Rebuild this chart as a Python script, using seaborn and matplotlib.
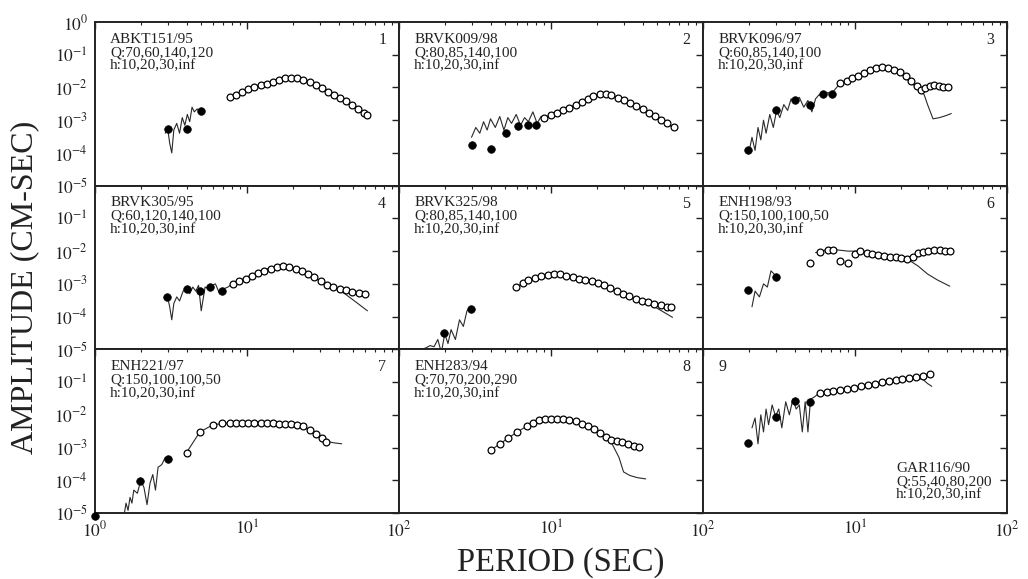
import numpy as np
import pandas as pd
import matplotlib
matplotlib.use("Agg")
import matplotlib.pyplot as plt
import seaborn as sns

# ---------------- data (period in s, amplitude in cm-s) ----------------
names = ["ABKT151/95", "BRVK009/98", "BRVK096/97", "BRVK305/95", "BRVK325/98",
         "ENH198/93", "ENH221/97", "ENH283/94", "GAR116/90"]
q_labels = ["Q:70,60,140,120", "Q:80,85,140,100", "Q:60,85,140,100", "Q:60,120,140,100",
            "Q:80,85,140,100", "Q:150,100,100,50", "Q:150,100,100,50", "Q:70,70,200,290",
            "Q:55,40,80,200"]
h_label = "h:10,20,30,inf"
panel_numbers = ["1", "2", "3", "4", "5", "6", "7", "8", "9"]

# panel 1
p1_solid_T = [3.0, 4.0, 5.0]
p1_solid_A = [5.5e-4, 5.5e-4, 1.9e-3]
p1_open_T = [7.7, 8.5, 9.3, 10.2, 11.2, 12.3, 13.5, 14.8, 16.2, 17.8, 19.5, 21.4, 23.5, 25.8,
             28.3, 31, 34, 37.3, 41, 45, 49.4, 54, 59, 62]
p1_open_A = [5.0e-3, 5.8e-3, 7.2e-3, 9.0e-3, 1.0e-2, 1.15e-2, 1.3e-2, 1.5e-2, 1.7e-2, 1.9e-2,
             2.0e-2, 1.9e-2, 1.7e-2, 1.45e-2, 1.2e-2, 9.5e-3, 7.5e-3, 6.0e-3, 4.8e-3, 3.8e-3,
             2.9e-3, 2.2e-3, 1.7e-3, 1.4e-3]
p1_lineA_T = [2.9, 3.0, 3.1, 3.2, 3.3, 3.45, 3.6, 3.75, 3.9, 4.05, 4.2, 4.35, 4.5, 4.7, 4.9]
p1_lineA_A = [4e-4, 6e-4, 2e-4, 1e-4, 5e-4, 8e-4, 4e-4, 1.2e-3, 7e-4, 1.5e-3, 9e-4, 2.5e-3,
              1.8e-3, 2.2e-3, 1.9e-3]
p1_lineB_T = [7.5, 9, 11, 13, 15, 17, 19, 21, 24, 28, 33, 39, 46, 54, 62]
p1_lineB_A = [4.8e-3, 7e-3, 1e-2, 1.3e-2, 1.6e-2, 1.85e-2, 2e-2, 1.95e-2, 1.65e-2, 1.25e-2,
              8.5e-3, 5.5e-3, 3.4e-3, 2.1e-3, 1.3e-3]

# panel 2
p2_solid_T = [3.0, 4.0, 5.05, 6.05, 7.06, 8.0]
p2_solid_A = [1.8e-4, 1.35e-4, 4e-4, 6.5e-4, 7e-4, 7e-4]
p2_open_T = [9, 10, 11, 12, 13.2, 14.5, 16, 17.5, 19, 21, 23, 25, 27.5, 30, 33, 36, 40, 44,
             48, 53, 58, 64]
p2_open_A = [1.2e-3, 1.4e-3, 1.7e-3, 2.0e-3, 2.4e-3, 2.9e-3, 3.5e-3, 4.3e-3, 5.3e-3, 6.5e-3,
             6.3e-3, 5.7e-3, 4.9e-3, 4.1e-3, 3.4e-3, 2.8e-3, 2.2e-3, 1.7e-3, 1.35e-3, 1.05e-3,
             8.0e-4, 6.0e-4]
p2_lineA_T = [3.0, 3.2, 3.4, 3.6, 3.8, 4.0, 4.3, 4.6, 4.9, 5.2, 5.5, 5.9, 6.3, 6.7, 7.1, 7.6,
              8.1, 8.6, 9, 12, 15, 18, 21, 25, 30, 36, 44, 53, 65]
p2_lineA_A = [3e-4, 6e-4, 4e-4, 9e-4, 5e-4, 1.1e-3, 6e-4, 1.3e-3, 5e-4, 1.2e-3, 8e-4, 1.5e-3,
              7e-4, 1.2e-3, 9e-4, 1.8e-3, 8e-4, 1.3e-3, 1.2e-3, 2e-3, 3.2e-3, 4.8e-3, 6.4e-3,
              5.7e-3, 4.1e-3, 2.8e-3, 1.7e-3, 1.05e-3, 5.5e-4]

# panel 3
p3_solid_T = [1.98, 3.0, 4.0, 5.06, 6.2, 7.1]
p3_solid_A = [1.2e-4, 2e-3, 4e-3, 3e-3, 6.2e-3, 6.5e-3]
p3_open_T = [8, 8.8, 9.6, 10.5, 11.5, 12.6, 13.8, 15, 16.4, 18, 19.7, 21.5, 23.5, 25.7, 27,
             29, 31, 33, 35.5, 38, 41]
p3_open_A = [1.35e-2, 1.6e-2, 1.9e-2, 2.3e-2, 2.8e-2, 3.3e-2, 3.9e-2, 4.2e-2, 4.0e-2, 3.5e-2,
             2.9e-2, 2.2e-2, 1.6e-2, 1.1e-2, 8.5e-3, 9.5e-3, 1.1e-2, 1.15e-2, 1.1e-2, 1.05e-2,
             1.0e-2]
p3_lineA_T = [2.0, 2.1, 2.2, 2.3, 2.4, 2.5, 2.6, 2.75, 2.9, 3.05, 3.2, 3.4, 3.6, 3.8, 4.0,
              4.3, 4.6, 4.9, 5.2, 5.5, 5.8, 6.2, 6.6, 7.0, 8, 10, 12, 14.6, 17, 20, 23, 26.8,
              28.5, 30, 32.6, 36, 40, 43]
p3_lineA_A = [1e-4, 3e-4, 1.2e-4, 6e-4, 2.5e-4, 1e-3, 4e-4, 1.5e-3, 6e-4, 2e-3, 1.2e-3, 3e-3,
              2e-3, 4.5e-3, 3.5e-3, 5e-3, 2.5e-3, 4e-3, 1.8e-3, 4.5e-3, 6e-3, 5e-3, 7e-3,
              6.5e-3, 1.35e-2, 2.2e-2, 3.2e-2, 4.2e-2, 3.8e-2, 2.6e-2, 1.5e-2, 8e-3, 6e-3,
              3e-3, 1.1e-3, 1.2e-3, 1.4e-3, 1.6e-3]
p3_lineB_T = [26.8, 30, 34, 38, 43]
p3_lineB_A = [8e-3, 1.05e-2, 1.1e-2, 1.05e-2, 1.0e-2]

# panel 4
p4_solid_T = [2.97, 4.0, 4.9, 5.7, 6.8]
p4_solid_A = [4e-4, 7e-4, 6e-4, 8e-4, 6e-4]
p4_open_T = [8.1, 8.9, 9.8, 10.8, 11.8, 13, 14.3, 15.7, 17.3, 19, 20.9, 23, 25.3, 27.8, 30.6,
             33.6, 37, 40.7, 44.8, 49.3, 54.2, 59.6]
p4_open_A = [1e-3, 1.2e-3, 1.45e-3, 1.75e-3, 2.1e-3, 2.5e-3, 2.9e-3, 3.3e-3, 3.5e-3, 3.3e-3,
             2.9e-3, 2.45e-3, 2.0e-3, 1.6e-3, 1.2e-3, 9.5e-4, 8e-4, 7e-4, 6.3e-4, 5.7e-4,
             5.3e-4, 4.9e-4]
p4_lineA_T = [3.0, 3.1, 3.2, 3.3, 3.45, 3.6, 3.8, 4.0, 4.2, 4.4, 4.6, 4.8, 5.0, 5.3, 5.6, 5.9,
              6.2, 6.6, 7.0, 7.5, 8, 10, 12, 14, 16.5, 19, 22, 26, 31, 37, 44, 52, 62]
p4_lineA_A = [4e-4, 2e-4, 8e-5, 2.5e-4, 4e-4, 3e-4, 6e-4, 7e-4, 5e-4, 8e-4, 6e-4, 9e-4,
              1.5e-4, 8e-4, 7e-4, 9e-4, 1e-3, 5e-4, 7e-4, 8e-4, 1e-3, 1.6e-3, 2.4e-3, 3e-3,
              3.5e-3, 3.3e-3, 2.5e-3, 1.8e-3, 1.15e-3, 7.5e-4, 5e-4, 2.8e-4, 1.5e-4]

# panel 5
p5_solid_T = [1.98, 2.98]
p5_solid_A = [3.1e-5, 1.7e-4]
p5_open_T = [5.9, 6.5, 7.1, 7.8, 8.6, 9.5, 10.4, 11.5, 12.6, 13.9, 15.3, 16.8, 18.5, 20.3,
             22.4, 24.6, 27, 29.7, 32.7, 36, 39.6, 43.5, 47.9, 52.7, 58, 61.5]
p5_open_A = [8e-4, 1.05e-3, 1.3e-3, 1.55e-3, 1.75e-3, 1.9e-3, 2e-3, 1.95e-3, 1.8e-3, 1.6e-3,
             1.45e-3, 1.3e-3, 1.2e-3, 1.05e-3, 9e-4, 7.5e-4, 6.2e-4, 5e-4, 4.2e-4, 3.5e-4,
             3e-4, 2.7e-4, 2.4e-4, 2.2e-4, 2e-4, 1.95e-4]
p5_lineA_T = [1.0, 1.4, 1.5, 1.6, 1.7, 1.8, 1.9, 2.0, 2.1, 2.2, 2.35, 2.5, 2.65, 2.8, 3.0]
p5_lineA_A = [9e-6, 1e-5, 1.1e-5, 1.3e-5, 1.2e-5, 2e-5, 8e-6, 3e-5, 1.5e-5, 4e-5, 2e-5, 8e-5,
              5e-5, 1.5e-4, 2e-4]
p5_lineB_T = [5.9, 7, 8.5, 10.5, 13, 16, 20, 25, 30, 38, 48, 63]
p5_lineB_A = [8e-4, 1.25e-3, 1.7e-3, 2e-3, 1.75e-3, 1.4e-3, 1.05e-3, 7.3e-4, 4.9e-4, 3e-4,
              2e-4, 9.5e-5]

# panel 6
p6_solid_T = [1.98, 3.0]
p6_solid_A = [6.5e-4, 1.6e-3]
p6_open_T = [5.06, 5.9, 6.6, 7.2, 8.0, 9.0, 10.0, 10.8, 12, 13, 14.2, 15.5, 17, 18.5, 20, 22,
             24, 26, 28, 30, 33, 36, 39, 42]
p6_open_A = [4.4e-3, 9.5e-3, 1.05e-2, 1.1e-2, 5e-3, 4.4e-3, 8e-3, 1e-2, 9e-3, 8e-3, 7.5e-3,
             7e-3, 6.8e-3, 6.5e-3, 6.2e-3, 5.8e-3, 6.8e-3, 8.5e-3, 9.5e-3, 1.0e-2, 1.05e-2,
             1.05e-2, 1.0e-2, 1.0e-2]
p6_lineA_T = [2.1, 2.2, 2.35, 2.5, 2.65, 2.8, 3.0]
p6_lineA_A = [2e-4, 6e-4, 4e-4, 1e-3, 8e-4, 2.5e-3, 1.8e-3]
p6_lineB_T = [5.5, 6.5, 7.5, 9, 11, 13, 16, 19, 22, 26, 30, 35, 42]
p6_lineB_A = [9e-3, 1.1e-2, 1.1e-2, 1.0e-2, 1.0e-2, 9e-3, 7.5e-3, 6.5e-3, 5.8e-3, 3.5e-3,
              2e-3, 1.3e-3, 8.5e-4]
p6_lineC_T = [22, 26, 30, 35, 42]
p6_lineC_A = [5.8e-3, 8.5e-3, 1e-2, 1.05e-2, 1.0e-2]

# panel 7
p7_solid_T = [1.0, 1.98, 3.0]
p7_solid_A = [8e-6, 9.6e-5, 4.5e-4]
p7_open_T = [4.0, 4.9, 6.0, 6.8, 7.7, 8.5, 9.3, 10.2, 11.2, 12.3, 13.5, 14.8, 16.2, 17.8,
             19.5, 21.4, 23.5, 25.8, 28.3, 31, 33]
p7_open_A = [7e-4, 3e-3, 5e-3, 5.5e-3, 5.8e-3, 5.8e-3, 5.8e-3, 5.8e-3, 5.8e-3, 5.8e-3,
             5.7e-3, 5.6e-3, 5.4e-3, 5.3e-3, 5.2e-3, 5.0e-3, 4.4e-3, 3.5e-3, 2.6e-3, 1.9e-3,
             1.5e-3]
p7_lineA_T = [1.55, 1.6, 1.65, 1.7, 1.75, 1.8, 1.9, 2.0, 2.1, 2.2, 2.3, 2.4, 2.5, 2.6, 2.75,
              2.9, 3.0]
p7_lineA_A = [8e-6, 2e-5, 1.2e-5, 3e-5, 2e-5, 5e-5, 4e-5, 1e-4, 6e-5, 1.8e-5, 8e-5, 1.5e-4,
              5e-5, 2.5e-4, 3e-4, 5e-4, 4.5e-4]
p7_lineB_T = [4.0, 4.9, 6, 7.7, 10, 13, 16, 19, 23, 27, 32.6, 37, 42]
p7_lineB_A = [7e-4, 3e-3, 5e-3, 5.7e-3, 5.8e-3, 5.8e-3, 5.5e-3, 5.2e-3, 4.5e-3, 3e-3, 1.6e-3,
              1.4e-3, 1.3e-3]

# panel 8
p8_open_T = [4.0, 4.6, 5.2, 6.0, 6.9, 7.6, 8.3, 9.1, 10, 11, 12, 13.2, 14.5, 16, 17.5, 19.2,
             21, 23, 25, 27, 29.5, 32, 35, 38]
p8_open_A = [8.5e-4, 1.3e-3, 1.9e-3, 3e-3, 4.4e-3, 5.8e-3, 6.8e-3, 7.4e-3, 7.6e-3, 7.6e-3,
             7.4e-3, 7e-3, 6.3e-3, 5.4e-3, 4.5e-3, 3.6e-3, 2.8e-3, 2.1e-3, 1.7e-3, 1.6e-3,
             1.5e-3, 1.3e-3, 1.15e-3, 1.05e-3]
p8_lineA_T = [3.9, 4.5, 5.2, 6, 7, 8, 9, 10, 11.5, 13, 15, 17, 19.5, 22, 25, 28, 30, 33, 37, 42]
p8_lineA_A = [7.5e-4, 1.2e-3, 1.9e-3, 3e-3, 4.6e-3, 6.5e-3, 7.3e-3, 7.6e-3, 7.5e-3, 7e-3,
              6e-3, 4.8e-3, 3.4e-3, 2.4e-3, 1.4e-3, 5e-4, 1.8e-4, 1.4e-4, 1.2e-4, 1.1e-4]

# panel 9
p9_solid_T = [1.98, 3.0, 4.0, 5.06]
p9_solid_A = [1.4e-3, 8.8e-3, 2.7e-2, 2.5e-2]
p9_open_T = [5.9, 6.5, 7.2, 8, 8.9, 9.9, 11, 12.2, 13.5, 15, 16.7, 18.5, 20.5, 22.8, 25.3, 28, 31]
p9_open_A = [4.5e-2, 4.9e-2, 5.3e-2, 5.8e-2, 6.2e-2, 6.8e-2, 7.5e-2, 8.3e-2, 9e-2, 9.7e-2,
             1.05e-1, 1.12e-1, 1.2e-1, 1.3e-1, 1.4e-1, 1.55e-1, 1.8e-1]
p9_lineA_T = [2.1, 2.2, 2.3, 2.4, 2.5, 2.6, 2.7, 2.85, 3.0, 3.15, 3.3, 3.5, 3.7, 3.9, 4.1,
              4.3, 4.5, 4.7, 4.9, 5.1, 5.4, 5.7, 8, 11, 15, 20, 25, 28, 30, 32]
p9_lineA_A = [4e-3, 8e-3, 1.3e-3, 1e-2, 3e-3, 1.5e-2, 5e-3, 2e-2, 9e-3, 1.5e-2, 4e-3, 2.5e-2,
              1e-2, 3e-2, 1.5e-2, 2e-2, 3e-3, 2.5e-2, 3e-3, 3e-2, 3.5e-2, 4.3e-2, 5.8e-2,
              7.5e-2, 9.7e-2, 1.2e-1, 1.35e-1, 1.2e-1, 9e-2, 7.4e-2]

panels = [
    dict(solid=(p1_solid_T, p1_solid_A), opn=(p1_open_T, p1_open_A),
         lines=[(p1_lineA_T, p1_lineA_A), (p1_lineB_T, p1_lineB_A)]),
    dict(solid=(p2_solid_T, p2_solid_A), opn=(p2_open_T, p2_open_A),
         lines=[(p2_lineA_T, p2_lineA_A)]),
    dict(solid=(p3_solid_T, p3_solid_A), opn=(p3_open_T, p3_open_A),
         lines=[(p3_lineA_T, p3_lineA_A), (p3_lineB_T, p3_lineB_A)]),
    dict(solid=(p4_solid_T, p4_solid_A), opn=(p4_open_T, p4_open_A),
         lines=[(p4_lineA_T, p4_lineA_A)]),
    dict(solid=(p5_solid_T, p5_solid_A), opn=(p5_open_T, p5_open_A),
         lines=[(p5_lineA_T, p5_lineA_A), (p5_lineB_T, p5_lineB_A)]),
    dict(solid=(p6_solid_T, p6_solid_A), opn=(p6_open_T, p6_open_A),
         lines=[(p6_lineA_T, p6_lineA_A), (p6_lineB_T, p6_lineB_A), (p6_lineC_T, p6_lineC_A)]),
    dict(solid=(p7_solid_T, p7_solid_A), opn=(p7_open_T, p7_open_A),
         lines=[(p7_lineA_T, p7_lineA_A), (p7_lineB_T, p7_lineB_A)]),
    dict(solid=None, opn=(p8_open_T, p8_open_A),
         lines=[(p8_lineA_T, p8_lineA_A)]),
    dict(solid=(p9_solid_T, p9_solid_A), opn=(p9_open_T, p9_open_A),
         lines=[(p9_lineA_T, p9_lineA_A)]),
]

x_ticks = [1, 10, 100]
x_labels_first = [r"$10^{0}$", r"$10^{1}$", r"$10^{2}$"]
x_labels_other = ["", r"$10^{1}$", r"$10^{2}$"]
y_ticks = [1e-5, 1e-4, 1e-3, 1e-2, 1e-1, 1]
y_labels_first = [r"$10^{-5}$", r"$10^{-4}$", r"$10^{-3}$", r"$10^{-2}$", r"$10^{-1}$", r"$10^{0}$"]
y_labels_other = [r"$10^{-5}$", r"$10^{-4}$", r"$10^{-3}$", r"$10^{-2}$", r"$10^{-1}$", ""]

# ---------------- style ----------------
sns.set_theme(style="white")
plt.rcParams["font.family"] = ["Liberation Serif", "DejaVu Serif"]
plt.rcParams["mathtext.fontset"] = "stix"
plt.rcParams["axes.edgecolor"] = "#222222"
plt.rcParams["axes.linewidth"] = 1.4

fig, axes = plt.subplots(3, 3, figsize=(10.28, 5.79), dpi=100)
fig.subplots_adjust(left=0.0924, right=0.9796, top=0.962, bottom=0.114, wspace=0, hspace=0)

for i, ax in enumerate(axes.flat):
    r, c = divmod(i, 3)
    p = panels[i]
    for (lt, la) in p["lines"]:
        df = pd.DataFrame({"T": lt, "A": la})
        sns.lineplot(data=df, x="T", y="A", ax=ax, sort=False, estimator=None,
                     color="#2a2a2a", linewidth=0.8)
    dfo = pd.DataFrame({"T": p["opn"][0], "A": p["opn"][1]})
    sns.scatterplot(data=dfo, x="T", y="A", ax=ax, marker="o", s=24,
                    facecolor="white", edgecolor="black", linewidth=0.9, zorder=3)
    if p["solid"] is not None:
        dfs = pd.DataFrame({"T": p["solid"][0], "A": p["solid"][1]})
        sns.scatterplot(data=dfs, x="T", y="A", ax=ax, marker="o", s=30,
                        color="black", edgecolor="black", linewidth=0.5, zorder=4,
                        clip_on=False)
    ax.set_xscale("log")
    ax.set_yscale("log")
    ax.set_xlim(1, 100)
    ax.set_ylim(1e-5, 1)
    ax.set_xlabel("")
    ax.set_ylabel("")
    ax.set_xticks(x_ticks)
    ax.set_yticks(y_ticks)
    if r == 2:
        ax.set_xticklabels(x_labels_first if c == 0 else x_labels_other)
    else:
        ax.set_xticklabels([])
    if c == 0:
        ax.set_yticklabels(y_labels_first if r == 0 else y_labels_other)
    else:
        ax.set_yticklabels([])
    ax.tick_params(which="both", direction="in", top=True, right=True, colors="#222222",
                   labelsize=12.5, labelcolor="#222222")
    ax.tick_params(which="major", length=5, width=1.0, pad=5)
    ax.tick_params(which="minor", length=2.5, width=0.8)

    block = "\n".join([names[i], q_labels[i], h_label])
    tk = dict(transform=ax.transAxes, fontsize=11, color="#222222", ha="left",
              linespacing=1.05)
    if i < 8:
        ax.text(0.05, 0.935, block, va="top", **tk)
        ax.text(0.958, 0.89, panel_numbers[i], transform=ax.transAxes, fontsize=11.5,
                color="#222222", va="center", ha="right")
    else:
        ax.text(0.635, 0.07, block, va="bottom", **tk)
        ax.text(0.05, 0.89, panel_numbers[i], transform=ax.transAxes, fontsize=11.5,
                color="#222222", va="center", ha="left")

fig.text(0.024, 0.503, "AMPLITUDE (CM-SEC)", rotation=90, ha="center", va="center",
         fontsize=23, color="#222222")
fig.text(0.545, 0.028, "PERIOD (SEC)", ha="center", va="center", fontsize=23.5,
         color="#222222")

fig.savefig("out.png", dpi=100)
